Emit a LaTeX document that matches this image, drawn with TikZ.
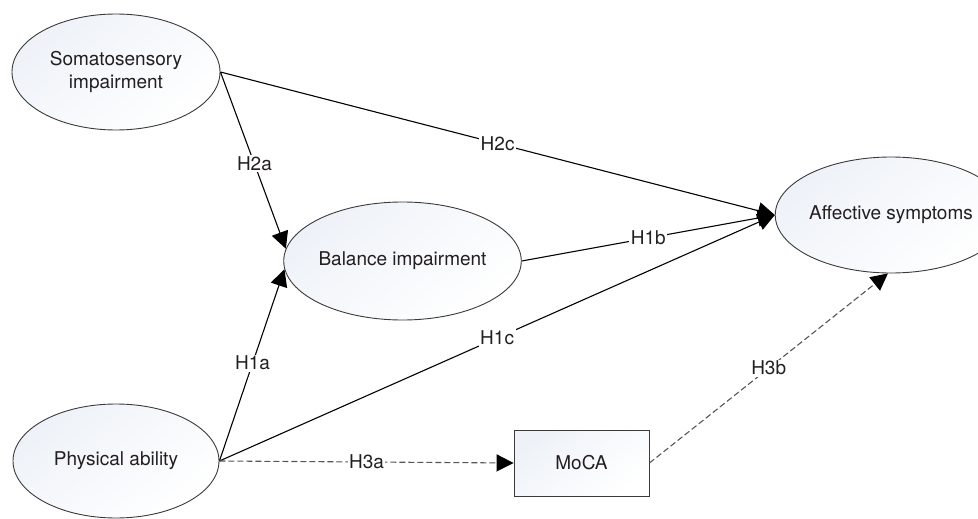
\documentclass[tikz,border=0pt]{standalone}
\usepackage{fontspec}
\setmainfont{TeX Gyre Heros}
\usetikzlibrary{arrows.meta,shapes.geometric}
\definecolor{txt}{HTML}{231F20}
\definecolor{edge}{HTML}{3A3A3A}
\definecolor{shadec}{HTML}{EEF2F8}
\definecolor{dashc}{HTML}{555555}
\tikzset{
  latent/.style={ellipse, draw=edge, line width=0.9pt, inner sep=0pt,
    top color=shadec, bottom color=white, shading angle=40,
    text=txt, font=\fontsize{19}{23}\selectfont, align=center},
  observed/.style={rectangle, draw=edge, line width=0.9pt, inner sep=0pt,
    top color=shadec, bottom color=white, shading angle=40,
    minimum width=135pt, minimum height=66pt,
    text=txt, font=\fontsize{19}{23}\selectfont},
  path/.style={draw=black, line width=1.1pt, -{Triangle[length=17pt,width=17pt]}},
  dpath/.style={draw=dashc, line width=1.1pt, dash pattern=on 6pt off 3pt,
    -{Triangle[length=17pt,width=17pt,color=black]}},
  hlab/.style={fill=white, inner sep=1.5pt, text=txt, font=\fontsize{19}{22}\selectfont}
}
\begin{document}
\begin{tikzpicture}[x=1pt,y=-1pt]
\useasboundingbox (0,0) rectangle (978,519);
\node[latent, minimum width=208pt, minimum height=116pt] (soma) at (116,72) {Somatosensory\\impairment};
\node[latent, minimum width=205pt, minimum height=118pt] (bal) at (402.5,261) {Balance impairment};
\node[latent, minimum width=216pt, minimum height=116pt] (aff) at (891,215) {Affective symptoms};
\node[latent, minimum width=206pt, minimum height=114pt] (phys) at (116,461) {Physical ability};
\node[observed] (moca) at (581.5,463) {MoCA};

\draw[path] (soma.east) -- node[hlab, pos=0.52] {H2a} (bal.174);
\draw[path] (soma.east) -- node[hlab, pos=0.5] {H2c} (aff.west);
\draw[path] (bal.east) -- node[hlab, pos=0.5] {H1b} (aff.west);
\draw[path] (phys.east) -- node[hlab, pos=0.51] {H1a} (bal.184);
\draw[path] (phys.east) -- node[hlab, pos=0.5] {H1c} (aff.west);
\draw[dpath] (phys.east) -- node[hlab, pos=0.5] {H3a} (moca.west);
\draw[dpath] (moca.east) -- node[hlab, pos=0.5] {H3b} (aff.267);
\end{tikzpicture}
\end{document}
